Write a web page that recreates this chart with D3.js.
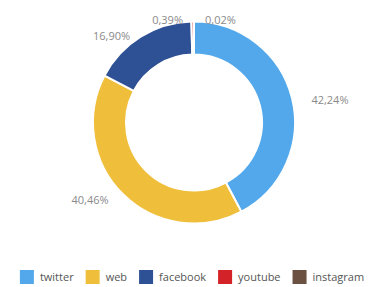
<!DOCTYPE html>
<html>
<head>
<meta charset="utf-8">
<script src="https://cdn.jsdelivr.net/npm/d3@7"></script>
<style>
  body { margin: 0; background: #fff; }
  svg { display: block; font-family: "Open Sans", sans-serif; }
</style>
</head>
<body>
<svg></svg>
<script>
var width = 383;
var height = 287;

var categories = ["twitter", "web", "facebook", "youtube", "instagram"];
var values = [42.24, 40.46, 16.90, 0.39, 0.02];
var labels = ["42,24%", "40,46%", "16,90%", "0,39%", "0,02%"];
var colors = ["#52a8ea", "#efbf3b", "#2e5094", "#d42328", "#6b5142"];

var cx = 194, cy = 122.5;
var outerR = 101, innerR = 68;

var data = categories.map((c, i) => ({ name: c, value: values[i], label: labels[i], color: colors[i] }));

var pie = d3.pie().sort(null).value(d => d.value);
var arc = d3.arc().innerRadius(innerR).outerRadius(outerR);

var svg = d3.select("svg")
    .attr("width", width)
    .attr("height", height);

var g = svg.append("g")
    .attr("transform", "translate(" + cx + "," + cy + ")");

var arcs = pie(data);

g.selectAll("path")
    .data(arcs)
    .enter()
    .append("path")
    .attr("d", arc)
    .attr("fill", d => d.data.color)
    .attr("stroke", "#fff")
    .attr("stroke-width", 2);

// labels: x a bit further out than y, left/right by side
var lab = arcs.map(d => {
    var mid = (d.startAngle + d.endAngle) / 2;
    var x = Math.sin(mid) * (outerR + 20);
    var y = -Math.cos(mid) * (outerR + 4) + 3;
    return { d: d, x: x, y: Math.max(y, -cy + 17), anchor: mid < Math.PI ? "start" : "end" };
});
// push apart the tiny ones at the top
for (var i = 1; i < lab.length; i++) {
    var prev = lab[i - 1], cur = lab[i];
    if (Math.abs(prev.y - cur.y) < 12 && Math.abs(prev.x - cur.x) < 30) {
        prev.anchor = "end";
        prev.x = Math.min(prev.x, -11);
        cur.anchor = "start";
        cur.x = 11;
    }
}

g.selectAll("text.lbl")
    .data(lab)
    .enter()
    .append("text")
    .attr("class", "lbl")
    .attr("x", d => d.x)
    .attr("y", d => d.y)
    .attr("dy", "0.35em")
    .attr("text-anchor", d => d.anchor)
    .attr("fill", "#8a8a8a")
    .style("font-size", "11px")
    .text(d => d.d.data.label);

// legend
var legend = svg.append("g");
var x = 0;
data.forEach(d => {
    var item = legend.append("g").attr("transform", "translate(" + x + ",0)");
    item.append("rect")
        .attr("width", 14)
        .attr("height", 14)
        .attr("y", -7)
        .attr("fill", d.color);
    var t = item.append("text")
        .attr("x", 20)
        .attr("dy", "0.35em")
        .attr("fill", "#555")
        .style("font-size", "11px")
        .text(d.name);
    x += 20 + t.node().getComputedTextLength() + 12;
});
var legendW = x - 12;
legend.attr("transform", "translate(" + (192 - legendW / 2) + ",277)");
</script>
</body>
</html>
